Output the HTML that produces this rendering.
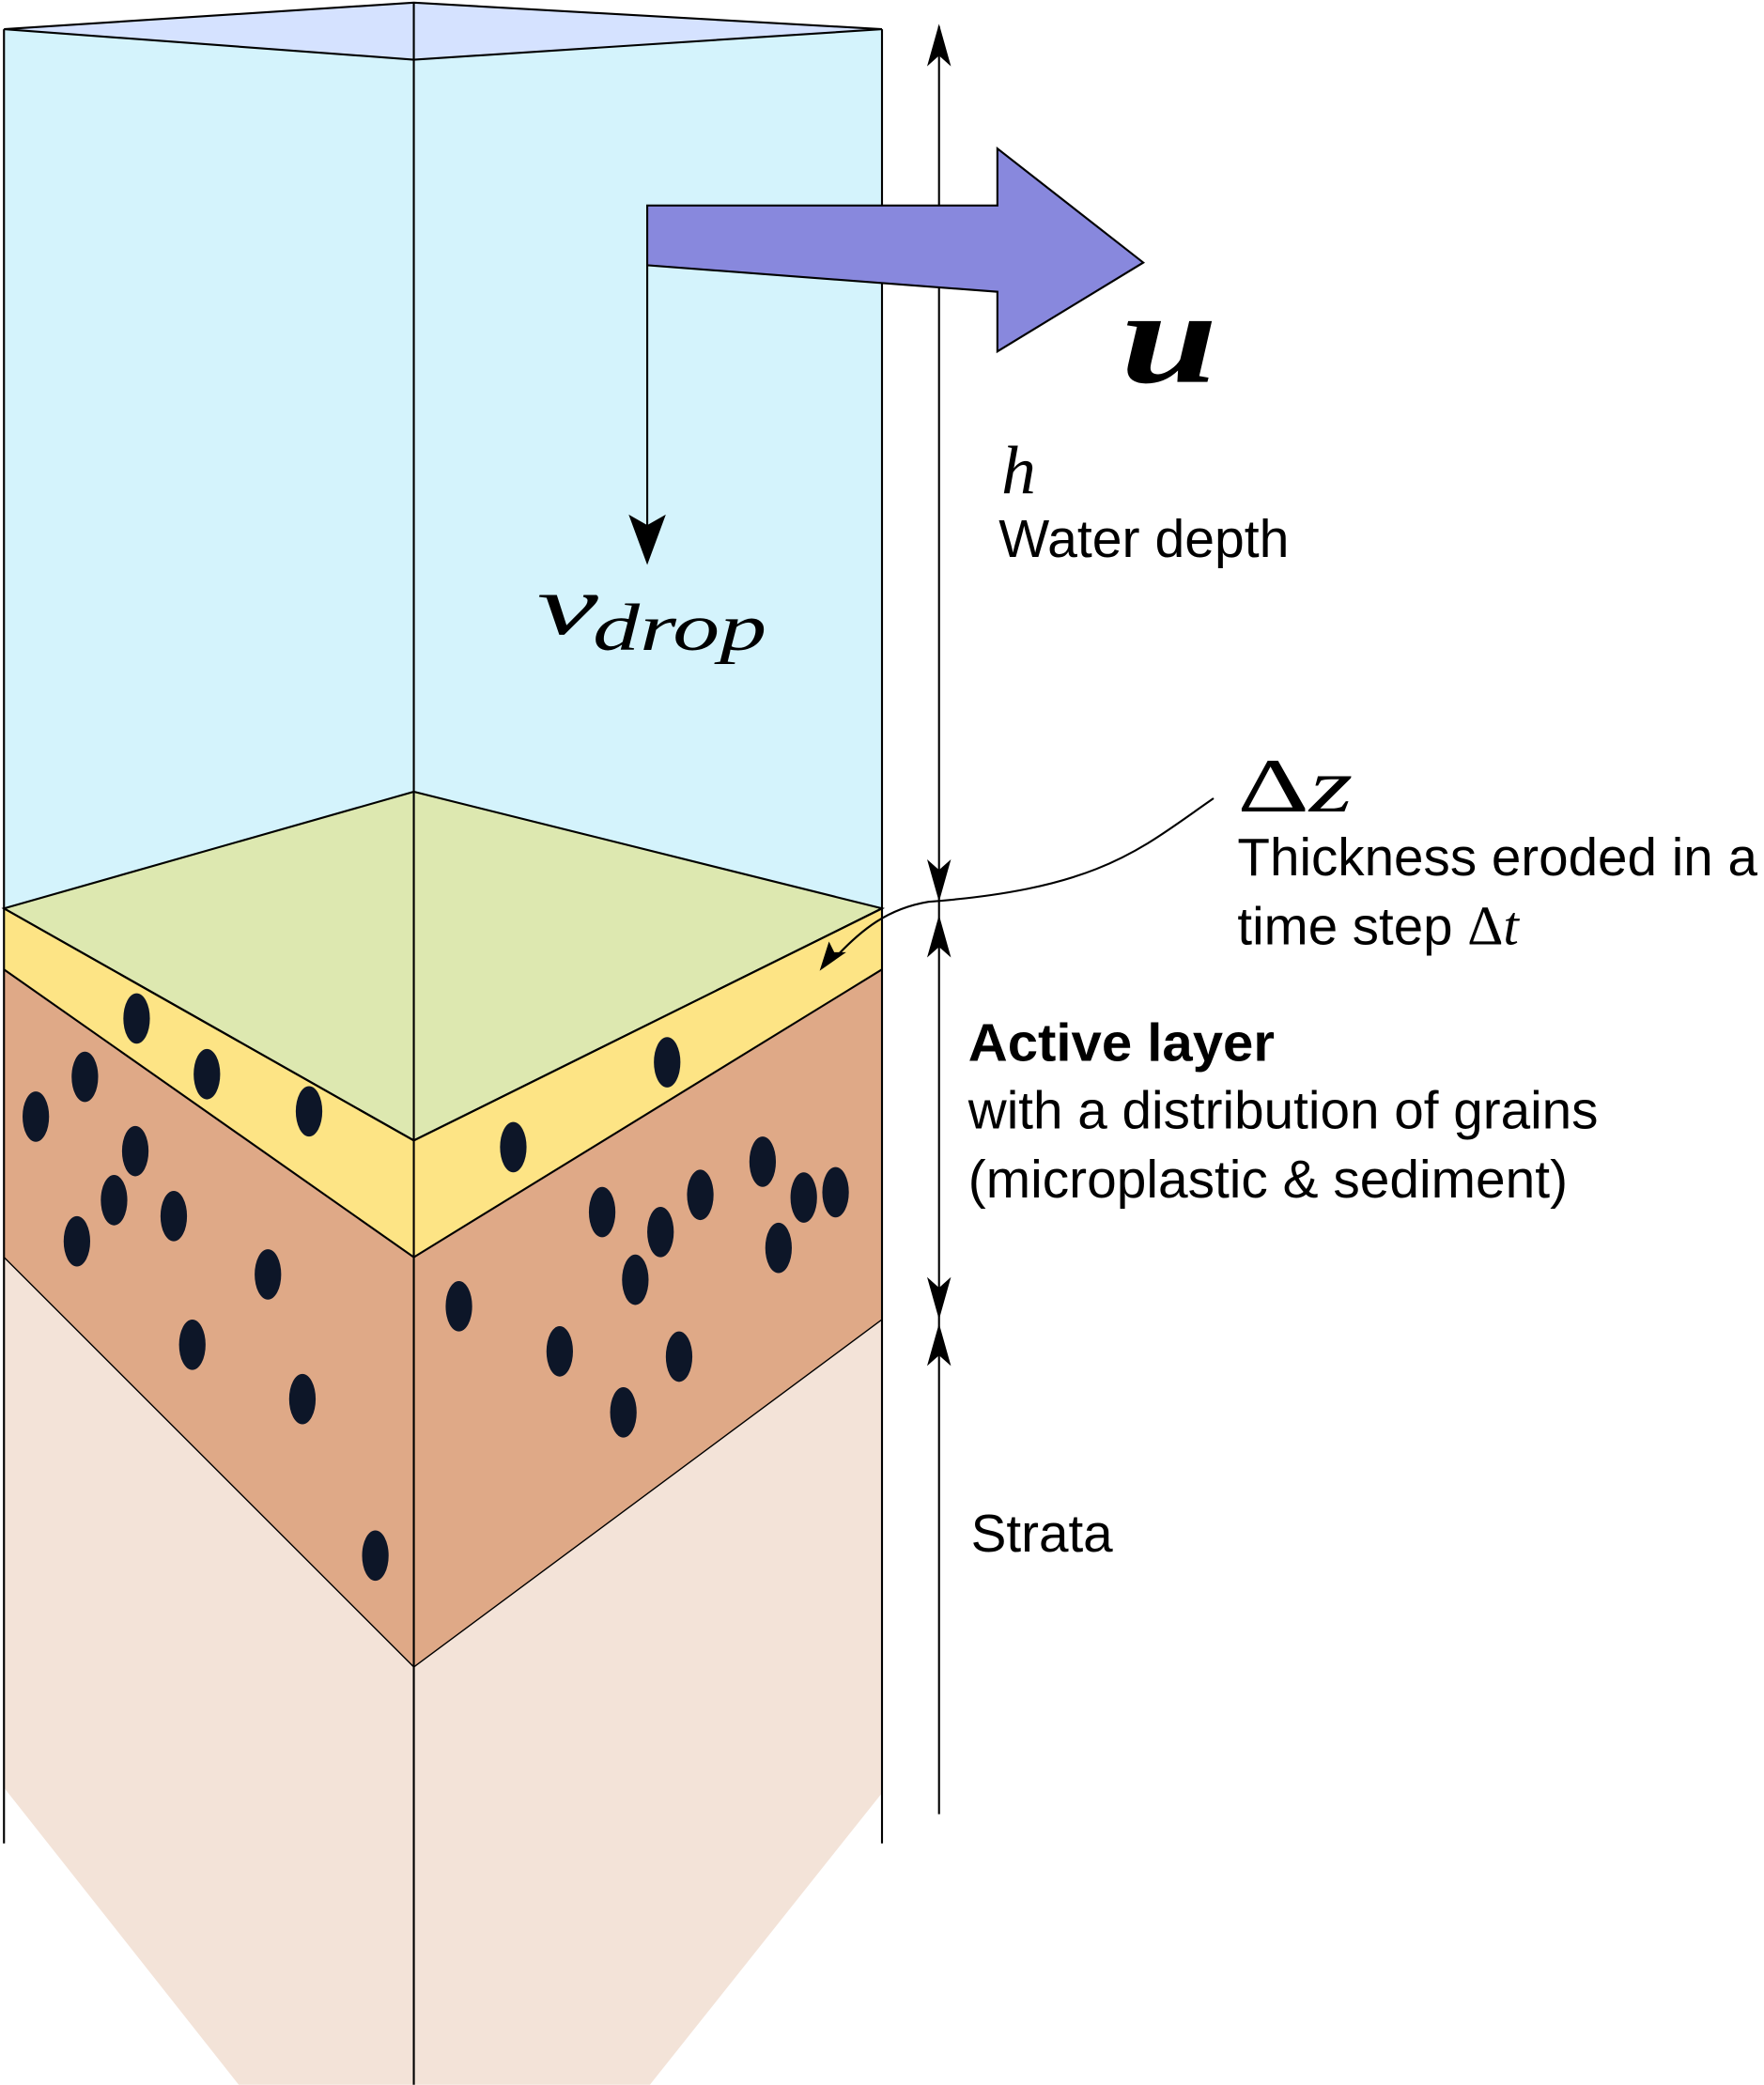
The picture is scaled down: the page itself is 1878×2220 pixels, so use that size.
<!DOCTYPE html>
<html><head><meta charset="utf-8"><style>html,body{margin:0;padding:0;background:#fff}svg{display:block}</style></head>
<body>
<svg width="1878" height="2220" viewBox="0 0 1330 1572.2" xmlns="http://www.w3.org/2000/svg">
<polygon points="3,948 312,1257 665,995 665,1352 490,1572 180,1572 3,1348" fill="#f3e3d8"/>
<polygon points="3,731 312,948 665,731 665,995 312,1257 3,948" fill="#dfa987"/>
<polygon points="3,685 312,860 665,685 665,731 312,948 3,731" fill="#fde485"/>
<polygon points="3,22 312,45 665,22 665,685 312,597 3,685" fill="#d4f3fc"/>
<polygon points="3,685 312,597 665,685 312,860" fill="#dde8b0" stroke="#000" stroke-width="1.5"/>
<polygon points="3,22 312,2 665,22 312,45" fill="#d5e2ff" stroke="#000" stroke-width="1.5"/>
<g stroke="#000" stroke-width="1.5" fill="none">
<line x1="3" y1="22" x2="3" y2="1390"/>
<line x1="665" y1="22" x2="665" y2="1390"/>
<line x1="312" y1="2" x2="312" y2="1572"/>
<polyline points="3,685 312,860 665,685"/>
<polyline points="3,731 312,948 665,731"/>
<polyline points="3,948 312,1257 665,995" stroke-width="1"/>
<line x1="708" y1="20" x2="708" y2="1368"/>
<line x1="488" y1="200" x2="488" y2="405"/>
<path d="M915,602 C860,640 830,670 700,680 C670,685 650,700 628,724"/>
</g>
<g fill="#000">
<path d="M708,18 L699,50 L708,42 L717,50 Z"/>
<path d="M708,680 L699,648 L708,656 L717,648 Z"/>
<path d="M708,690 L699,722 L708,714 L717,722 Z"/>
<path d="M708,995 L699,963 L708,971 L717,963 Z"/>
<path d="M708,998 L699,1030 L708,1022 L717,1030 Z"/>
<path d="M488,426 L474,388 L488,396 L502,388 Z"/>
<path d="M618,732 L625,710 L629,718 L638,718 Z"/>
</g>
<polygon points="488,155 752,155 752,112 862,198 752,265 752,220 488,200" fill="#8888dd" stroke="#000" stroke-width="1.5"/>
<g fill="#0d1628">
<ellipse cx="103" cy="768" rx="10" ry="19"/><ellipse cx="64" cy="812" rx="10" ry="19"/><ellipse cx="156" cy="810" rx="10" ry="19"/><ellipse cx="233" cy="838" rx="10" ry="19"/><ellipse cx="27" cy="842" rx="10" ry="19"/><ellipse cx="102" cy="868" rx="10" ry="19"/><ellipse cx="86" cy="905" rx="10" ry="19"/><ellipse cx="131" cy="917" rx="10" ry="19"/><ellipse cx="58" cy="936" rx="10" ry="19"/><ellipse cx="202" cy="961" rx="10" ry="19"/><ellipse cx="145" cy="1014" rx="10" ry="19"/><ellipse cx="228" cy="1055" rx="10" ry="19"/><ellipse cx="283" cy="1173" rx="10" ry="19"/><ellipse cx="503" cy="801" rx="10" ry="19"/><ellipse cx="387" cy="865" rx="10" ry="19"/><ellipse cx="575" cy="876" rx="10" ry="19"/><ellipse cx="528" cy="901" rx="10" ry="19"/><ellipse cx="606" cy="903" rx="10" ry="19"/><ellipse cx="630" cy="899" rx="10" ry="19"/><ellipse cx="454" cy="914" rx="10" ry="19"/><ellipse cx="498" cy="929" rx="10" ry="19"/><ellipse cx="587" cy="941" rx="10" ry="19"/><ellipse cx="479" cy="965" rx="10" ry="19"/><ellipse cx="346" cy="985" rx="10" ry="19"/><ellipse cx="422" cy="1019" rx="10" ry="19"/><ellipse cx="512" cy="1023" rx="10" ry="19"/><ellipse cx="470" cy="1065" rx="10" ry="19"/>
</g>
<g fill="#000">
<text x="845" y="288" font-family="Liberation Serif, serif" font-style="italic" font-weight="bold" font-size="100" textLength="73" lengthAdjust="spacingAndGlyphs">u</text>
<text x="755" y="372" font-family="Liberation Serif, serif" font-style="italic" font-size="52">h</text>
<text x="753" y="420" font-family="Liberation Sans, sans-serif" font-size="40" textLength="219" lengthAdjust="spacingAndGlyphs">Water depth</text>
<text x="405" y="478" font-family="Liberation Serif, serif" font-style="italic" font-size="64" textLength="46" lengthAdjust="spacingAndGlyphs">v</text>
<text x="447" y="490" font-family="Liberation Serif, serif" font-style="italic" font-size="50" textLength="131" lengthAdjust="spacingAndGlyphs">drop</text>
<text x="933" y="612" font-family="Liberation Serif, serif" font-size="58" textLength="87" lengthAdjust="spacingAndGlyphs">Δ<tspan font-style="italic">z</tspan></text>
<text x="933" y="660" font-family="Liberation Sans, sans-serif" font-size="40" textLength="392" lengthAdjust="spacingAndGlyphs">Thickness eroded in a</text>
<text x="933" y="712" font-family="Liberation Sans, sans-serif" font-size="40">time step <tspan font-family="Liberation Serif, serif" font-size="42">Δ<tspan font-style="italic">t</tspan></tspan></text>
<text x="730" y="800" font-family="Liberation Sans, sans-serif" font-size="40" font-weight="bold" textLength="231" lengthAdjust="spacingAndGlyphs">Active layer</text>
<text x="730" y="851" font-family="Liberation Sans, sans-serif" font-size="40" textLength="475" lengthAdjust="spacingAndGlyphs">with a distribution of grains</text>
<text x="730" y="903" font-family="Liberation Sans, sans-serif" font-size="40" textLength="452" lengthAdjust="spacingAndGlyphs">(microplastic &amp; sediment)</text>
<text x="732" y="1170" font-family="Liberation Sans, sans-serif" font-size="40" textLength="107" lengthAdjust="spacingAndGlyphs">Strata</text>
</g>
</svg>
</body></html>
